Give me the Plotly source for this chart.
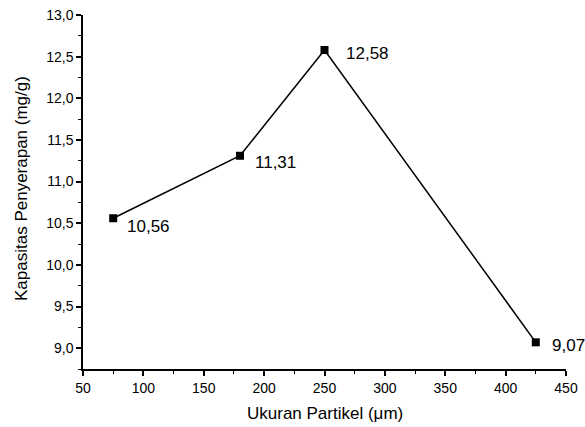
import plotly.graph_objects as go

particle_size = [75, 180, 250, 425]
capacity = [10.56, 11.31, 12.58, 9.07]
labels = ["10,56", "11,31", "12,58", "9,07"]
label_dx = [12, 13, 19, 14]
label_dy = [-8, -7, -4, -3]

x_ticks = [50, 100, 150, 200, 250, 300, 350, 400, 450]
y_ticks = [9.0, 9.5, 10.0, 10.5, 11.0, 11.5, 12.0, 12.5, 13.0]
y_ticklabels = ["9,0", "9,5", "10,0", "10,5", "11,0", "11,5", "12,0", "12,5", "13,0"]

FONT = "Liberation Sans, Arial, sans-serif"

W, H = 585, 427
ML, MR, MT, MB = 83, 19, 15, 58
PW = W - ML - MR
PH = H - MT - MB

fig = go.Figure()
fig.add_trace(go.Scatter(
    x=particle_size, y=capacity,
    mode="lines+markers",
    line=dict(color="black", width=1.5),
    marker=dict(symbol="square", size=8, color="black"),
    cliponaxis=False,
    showlegend=False,
    hoverinfo="skip",
))

for xv, yv, t, dx, dy in zip(particle_size, capacity, labels, label_dx, label_dy):
    fig.add_annotation(
        x=xv, y=yv, text=t, showarrow=False,
        xanchor="left", yanchor="middle", xshift=dx, yshift=dy,
        font=dict(family=FONT, size=17, color="black"),
    )

axis_common = dict(
    showline=True, linecolor="black", linewidth=1.5,
    ticks="outside", ticklen=5, tickwidth=1.5, tickcolor="black",
    showgrid=False, zeroline=False, mirror=False, automargin=False,
    tickfont=dict(family=FONT, size=14, color="black"),
    ticklabeloverflow="allow",
)

fig.update_xaxes(
    range=[50, 450], tickvals=x_ticks,
    minor=dict(ticks="outside", ticklen=3, tickwidth=1, tickcolor="black", dtick=25),
    **axis_common,
)
fig.update_yaxes(
    range=[8.75, 13.0], tickvals=y_ticks, ticktext=y_ticklabels,
    minor=dict(ticks="outside", ticklen=3, tickwidth=1, tickcolor="black", dtick=0.25),
    **axis_common,
)

fig.add_annotation(
    text="Ukuran Partikel (μm)", xref="paper", yref="paper",
    x=0.5, y=-(413 - 369) / PH, xanchor="center", yanchor="middle",
    showarrow=False, font=dict(family=FONT, size=17, color="black"),
)
fig.add_annotation(
    text="Kapasitas Penyerapan (mg/g)", xref="paper", yref="paper",
    x=-(83 - 21) / PW, y=(369 - 189) / PH, xanchor="center", yanchor="middle",
    textangle=-90, showarrow=False, font=dict(family=FONT, size=17, color="black"),
)

fig.update_layout(
    width=W, height=H,
    margin=dict(l=ML, r=MR, t=MT, b=MB),
    plot_bgcolor="white", paper_bgcolor="white",
)

# remove the browser's default body margin so the figure sits at the page's top-left corner
fig.write_html("out.html", config={"displayModeBar": False},
               post_script="document.body.style.margin='0';")
